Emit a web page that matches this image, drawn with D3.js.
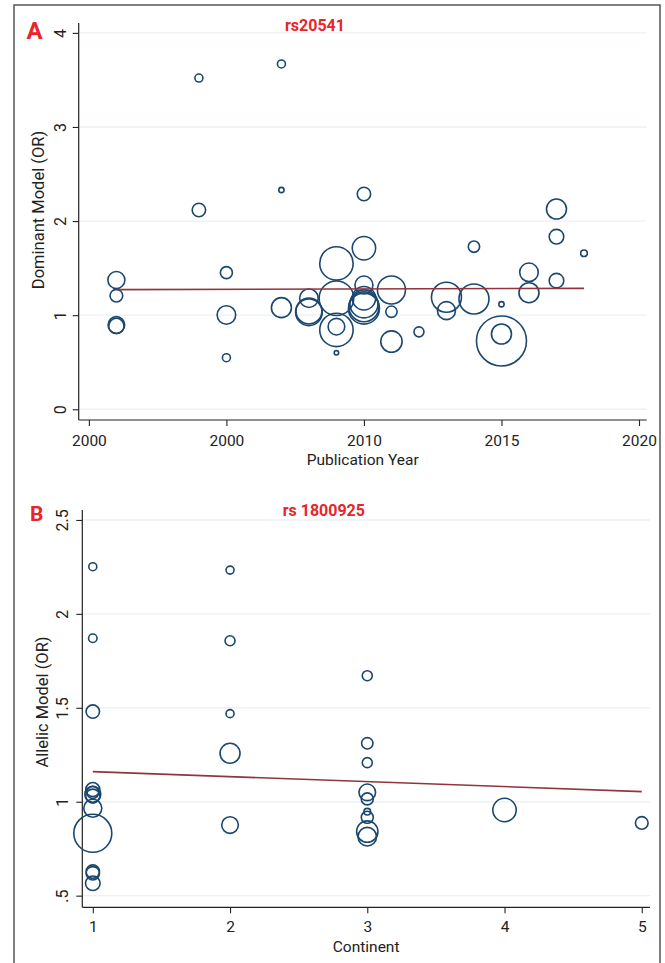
<!DOCTYPE html>
<html>
<head>
<meta charset="utf-8">
<script src="https://cdn.jsdelivr.net/npm/d3@7"></script>
<style>
  body { margin: 0; background: #fff; }
  svg { display: block; }
  text { font-family: Roboto, "Liberation Sans", sans-serif; }
</style>
</head>
<body>
<svg id="chart" width="665" height="963"></svg>
<script>
// ---- Panel A: rs20541, dominant model OR by publication year ----
const yearA = [2001, 2001, 2001, 2001, 2004, 2004, 2005, 2005, 2005, 2007, 2007, 2007,
               2008, 2008, 2008, 2009, 2009, 2009, 2009, 2009, 2010, 2010, 2010, 2010,
               2010, 2010, 2010, 2011, 2011, 2011, 2012, 2013, 2013, 2014, 2014, 2015,
               2015, 2015, 2016, 2016, 2017, 2017, 2017, 2018];
const orA = [1.374, 1.207, 0.896, 0.885, 3.52, 2.118, 1.452, 1.002, 0.548, 3.67, 2.33, 1.08,
             1.18, 1.045, 1.03, 1.55, 1.18, 0.878, 0.843, 0.60, 2.288, 1.711, 1.32, 1.18,
             1.12, 1.09, 1.07, 1.268, 1.037, 0.72, 0.823, 1.19, 1.048, 1.728, 1.172, 1.116,
             0.80, 0.726, 1.456, 1.239, 2.128, 1.834, 1.367, 1.658];
const weightA = [72, 40, 69, 59, 16, 45, 36, 86, 16, 16, 7, 100,
                 86, 169, 177, 279, 299, 69, 279, 5, 45, 137, 81, 137,
                 196, 225, 240, 196, 32, 114, 25, 225, 81, 32, 225, 7,
                 100, 625, 86, 100, 100, 53, 53, 11];
const fitA = [[2001, 1.272], [2018, 1.285]];
const xTicksA = [2000, 2005, 2010, 2015, 2020];
const xTickLabelsA = ["2000", "2000", "2010", "2015", "2020"];
const yTicksA = [0, 1, 2, 3, 4];
const yTickLabelsA = ["0", "1", "2", "3", "4"];

// ---- Panel B: rs1800925, allelic model OR by continent ----
const continentB = [1, 1, 1, 1, 1, 1, 1, 1, 1, 1, 1, 1,
                    2, 2, 2, 2, 2,
                    3, 3, 3, 3, 3, 3, 3, 3, 3,
                    4, 5];
const orB = [2.251, 1.870, 1.480, 1.065, 1.05, 1.04, 1.03, 0.965, 0.832, 0.628, 0.619, 0.566,
             2.233, 1.857, 1.469, 1.258, 0.876,
             1.671, 1.311, 1.208, 1.05, 1.015, 0.947, 0.917, 0.841, 0.814,
             0.956, 0.887];
const weightB = [16, 18, 45, 49, 36, 64, 49, 81, 361, 45, 45, 53,
                 16, 25, 16, 100, 69,
                 25, 32, 25, 69, 36, 11, 36, 114, 86,
                 137, 40];
const fitB = [[1, 1.160], [5, 1.054]];
const xTicksB = [1, 2, 3, 4, 5];
const xTickLabelsB = ["1", "2", "3", "4", "5"];
const yTicksB = [0.5, 1, 1.5, 2, 2.5];
const yTickLabelsB = [".5", "1", "1.5", "2", "2.5"];

const svg = d3.select("#chart");
const markerColor = "#1a476f";
const fitColor = "#90353b";
const gridColor = "#eaf2f3";
const axisColor = "#222";
const red = "#e8252b";

// bubble area proportional to study weight
const rScale = d3.scaleSqrt().domain([0, 625]).range([0, 25]);

// outer frame
svg.append("path")
  .attr("d", "M14,970 L14,5 L660,5 L660,970")
  .attr("fill", "none").attr("stroke", "#555").attr("stroke-width", 1.5);

function panel(cfg) {
  const x = d3.scaleLinear().domain(cfg.xDom).range(cfg.xPix);
  const y = d3.scaleLinear().domain(cfg.yDom).range(cfg.yPix);
  const g = svg.append("g");
  const x0 = cfg.xPix[0], x1 = cfg.xPix[1];
  const yb = cfg.yPix[0], yt = cfg.yPix[1];

  // horizontal grid
  g.selectAll(".grid").data(cfg.yTicks).join("line")
    .attr("x1", x0 + 1).attr("x2", x1)
    .attr("y1", d => y(d)).attr("y2", d => y(d))
    .attr("stroke", gridColor).attr("stroke-width", 1.4);

  // y axis
  const yAxis = d3.axisLeft(y).tickValues(cfg.yTicks)
    .tickFormat((d, i) => cfg.yLabels[i]).tickSize(6).tickSizeOuter(0);
  const ya = g.append("g").attr("transform", `translate(${x0},0)`).call(yAxis);
  ya.select(".domain").attr("d", `M0,${yt}V${yb}`).attr("stroke", axisColor).attr("stroke-width", 1.2);
  ya.selectAll(".tick line").attr("stroke", axisColor).attr("stroke-width", 1.1);
  ya.selectAll(".tick text")
    .attr("x", null).attr("dy", null)
    .attr("transform", `translate(${cfg.yLabelX - x0},0) rotate(-90)`)
    .attr("text-anchor", "middle")
    .attr("font-size", 16).attr("fill", axisColor);

  // x axis
  const xAxis = d3.axisBottom(x).tickValues(cfg.xTicks)
    .tickFormat((d, i) => cfg.xLabels[i]).tickSize(6).tickSizeOuter(0);
  const xa = g.append("g").attr("transform", `translate(0,${yb})`).call(xAxis);
  xa.select(".domain").attr("d", `M${x0},0H${x1}`).attr("stroke", axisColor).attr("stroke-width", 1.2);
  xa.selectAll(".tick line").attr("stroke", axisColor).attr("stroke-width", 1.1);
  xa.selectAll(".tick text")
    .attr("y", cfg.xLabelY - yb).attr("dy", null)
    .attr("font-size", 15.5).attr("fill", axisColor);

  // study bubbles
  g.append("g").selectAll("circle").data(cfg.xs.map((v, i) => i)).join("circle")
    .attr("cx", i => x(cfg.xs[i]))
    .attr("cy", i => y(cfg.ys[i]))
    .attr("r", i => rScale(cfg.ws[i]))
    .attr("fill", "none").attr("stroke", markerColor).attr("stroke-width", 1.6);

  // meta-regression fit
  g.append("path")
    .attr("d", d3.line().x(d => x(d[0])).y(d => y(d[1]))(cfg.fit))
    .attr("fill", "none").attr("stroke", fitColor).attr("stroke-width", 1.6);

  // axis titles
  g.append("text").attr("x", (x0 + x1) / 2).attr("y", cfg.xTitleY)
    .attr("text-anchor", "middle").attr("font-size", 15.5).attr("fill", axisColor)
    .text(cfg.xTitle);
  g.append("text")
    .attr("transform", `translate(${cfg.yTitleX},${cfg.yTitleCY}) rotate(-90)`)
    .attr("text-anchor", "middle").attr("font-size", 16.5).attr("fill", axisColor)
    .text(cfg.yTitle);

  // panel title and letter
  g.append("text").attr("x", cfg.titleX).attr("y", cfg.titleY)
    .attr("text-anchor", "middle").attr("font-size", 16).attr("font-weight", "bold")
    .attr("fill", red).text(cfg.title);
  g.append("text").attr("x", cfg.letterX).attr("y", cfg.letterY)
    .attr("text-anchor", "middle").attr("font-size", cfg.letterSize).attr("font-weight", "bold")
    .attr("fill", red).text(cfg.letter);
}

panel({
  xs: yearA, ys: orA, ws: weightA, fit: fitA,
  xDom: [1999.63, 2020.28], xPix: [78.7, 646.7],
  yDom: [-0.114, 4.105], yPix: [420, 23],
  xTicks: xTicksA, xLabels: xTickLabelsA,
  yTicks: yTicksA, yLabels: yTickLabelsA,
  xLabelY: 446, yLabelX: 66,
  xTitle: "Publication Year", xTitleY: 465,
  yTitle: "Dominant Model (OR)", yTitleX: 44, yTitleCY: 210,
  title: "rs20541", titleX: 315, titleY: 30.7,
  letter: "A", letterX: 34.5, letterY: 39.3, letterSize: 24
});

panel({
  xs: continentB, ys: orB, ws: weightB, fit: fitB,
  xDom: [0.9235, 5.06], xPix: [82.3, 650],
  yDom: [0.438, 2.553], yPix: [907.3, 510],
  xTicks: xTicksB, xLabels: xTickLabelsB,
  yTicks: yTicksB, yLabels: yTickLabelsB,
  xLabelY: 932.5, yLabelX: 68,
  xTitle: "Continent", xTitleY: 952,
  yTitle: "Allelic Model (OR)", yTitleX: 48, yTitleCY: 702,
  title: "rs 1800925", titleX: 323.8, titleY: 516,
  letter: "B", letterX: 36.7, letterY: 520.7, letterSize: 21
});
</script>
</body>
</html>
